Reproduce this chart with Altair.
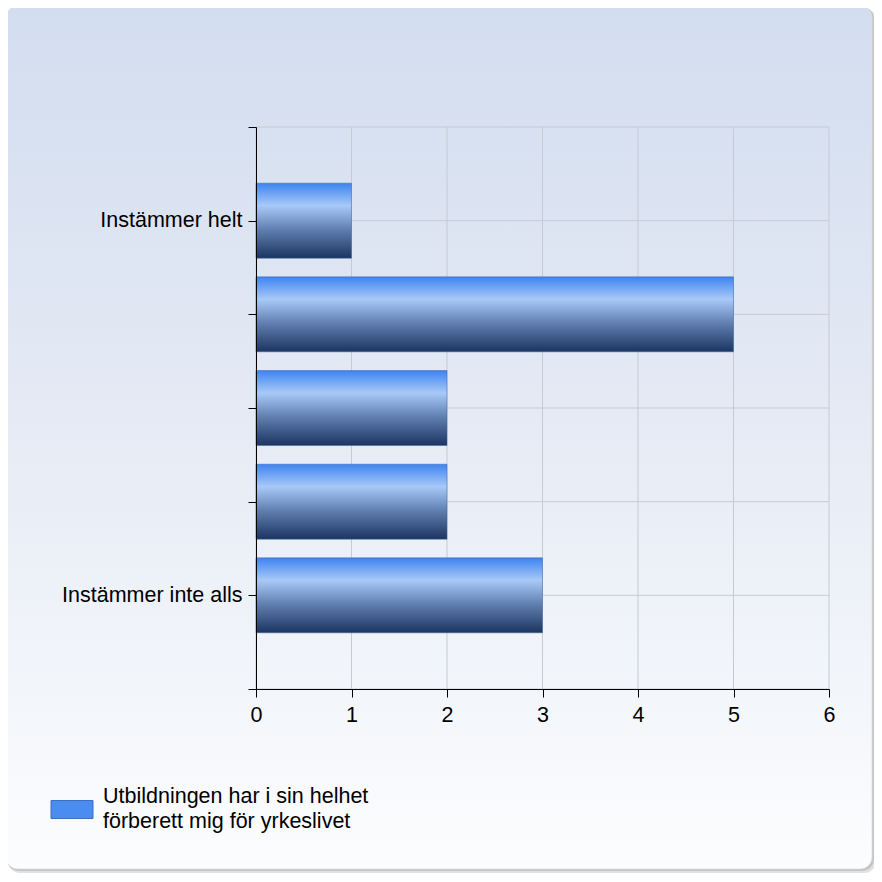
import json
import altair as alt
import pandas as pd

# ---- data ----
categories = ["Instämmer helt", "", "", "", "Instämmer inte alls"]
counts = [1, 5, 2, 2, 3]
series_lines = ["Utbildningen har i sin helhet", "förberett mig för yrkeslivet"]
x_ticks = [0, 1, 2, 3, 4, 5, 6]
y_ticks = [0, 1, 2, 3, 4, 5, 6]

series_name = " ".join(series_lines)
bars_df = pd.DataFrame({
    "pos": list(range(1, len(categories) + 1)),
    "category": categories,
    "count": counts,
    "series": series_name,
})
xgrid_df = pd.DataFrame({"v": x_ticks})
ygrid_df = pd.DataFrame({"v": y_ticks})
bg_df = pd.DataFrame({"d": [0]})

FONT = "Liberation Sans"
FS = 21.5
W, H = 573, 562

y_labels = [""] + categories + [""]
y_label_expr = json.dumps(y_labels, ensure_ascii=False) + "[datum.value]"
legend_label_expr = json.dumps(series_lines, ensure_ascii=False)

xaxis = alt.Axis(values=x_ticks, grid=False, title=None, tickSize=8, tickColor="#000000",
                 domainColor="#000000", labelColor="#000000", labelFontSize=FS,
                 labelFont=FONT, labelPadding=7, zindex=1, labelFlush=False)
yaxis = alt.Axis(values=y_ticks, grid=False, title=None, tickSize=8, tickColor="#000000",
                 domainColor="#000000", labelColor="#000000", labelFontSize=FS,
                 labelFont=FONT, labelPadding=6, labelLimit=400, zindex=1,
                 labelExpr=y_label_expr)

xscale = alt.Scale(domain=[0, 6], nice=False, zero=True)
yscale = alt.Scale(domain=[0, 6], nice=False, zero=True, reverse=True)


def X(field):
    return alt.X(field, type="quantitative", scale=xscale, axis=xaxis)


def Y(field):
    return alt.Y(field, type="quantitative", scale=yscale, axis=yaxis)


bg_gradient = {
    "gradient": "linear", "x1": 0, "y1": 0, "x2": 0, "y2": 1,
    "stops": [
        {"offset": 0, "color": "#d2ddef"},
        {"offset": 0.5, "color": "#e6ebf5"},
        {"offset": 1, "color": "#fcfdfe"},
    ],
}
bar_gradient = {
    "gradient": "linear", "x1": 0, "y1": 0, "x2": 0, "y2": 1,
    "stops": [
        {"offset": 0, "color": "#3d84f0"},
        {"offset": 0.3, "color": "#a8c9f8"},
        {"offset": 0.62, "color": "#5f7fb0"},
        {"offset": 1, "color": "#1c3561"},
    ],
}

# legend swatch (42 x 18 px), drawn a little below the first label line
SWATCH = "M-1.4,0.267L1.4,0.267L1.4,1.467L-1.4,1.467Z"

shadow2 = alt.Chart(bg_df).mark_rect(cornerRadius=12, color="#e2e2e2").encode(
    x=alt.value(-248), x2=alt.value(620), y=alt.value(-119), y2=alt.value(746))
shadow1 = alt.Chart(bg_df).mark_rect(cornerRadius=12, color="#c4c4c4").encode(
    x=alt.value(-249), x2=alt.value(618), y=alt.value(-120), y2=alt.value(744))
background = alt.Chart(bg_df).mark_rect(cornerRadius=12, fill=bg_gradient,
                                        stroke="#d8dde6", strokeWidth=0.8).encode(
    x=alt.value(-250), x2=alt.value(616), y=alt.value(-121), y2=alt.value(742))

vgrid = alt.Chart(xgrid_df).mark_rule(color="#c5cad3", strokeWidth=1).encode(x=X("v"))
hgrid = alt.Chart(ygrid_df).mark_rule(color="#c5cad3", strokeWidth=1).encode(y=Y("v"))

bars = alt.Chart(bars_df).transform_calculate(
    x0="0", lo="datum.pos - 0.4", hi="datum.pos + 0.4"
).mark_rect(fill=bar_gradient, stroke="#3a64a3", strokeWidth=0.5).encode(
    x=X("x0"), x2="count:Q", y=Y("lo"), y2="hi:Q",
)

legend_layer = alt.Chart(bars_df).mark_point(
    filled=True, opacity=0, shape=SWATCH
).encode(
    x=X("count"), y=Y("pos"),
    color=alt.Color("series:N", scale=alt.Scale(range=["#4a8cf0"]),
                    legend=alt.Legend(
                        title=None, orient="none", legendX=-199.5, legendY=654,
                        symbolType=SWATCH,
                        symbolSize=900, symbolOpacity=1,
                        symbolStrokeColor="#3b6fc0", symbolStrokeWidth=1,
                        labelExpr=legend_label_expr, labelFont=FONT,
                        labelFontSize=FS, labelColor="#000000", labelLimit=600,
                        labelOffset=15.5, padding=0,
                    )),
)

chart = alt.layer(shadow2, shadow1, background, vgrid, hgrid, bars, legend_layer).properties(
    width=W, height=H,
    autosize=alt.AutoSizeParams(type="none"),
    padding={"left": 248, "top": 119, "right": 45, "bottom": 185},
    background="#ffffff",
).configure_view(stroke=None).configure(
    font=FONT, style={"guide-label": {"lineHeight": 25}}
)

chart.save("out.html", embed_options={"renderer": "svg", "actions": False})
